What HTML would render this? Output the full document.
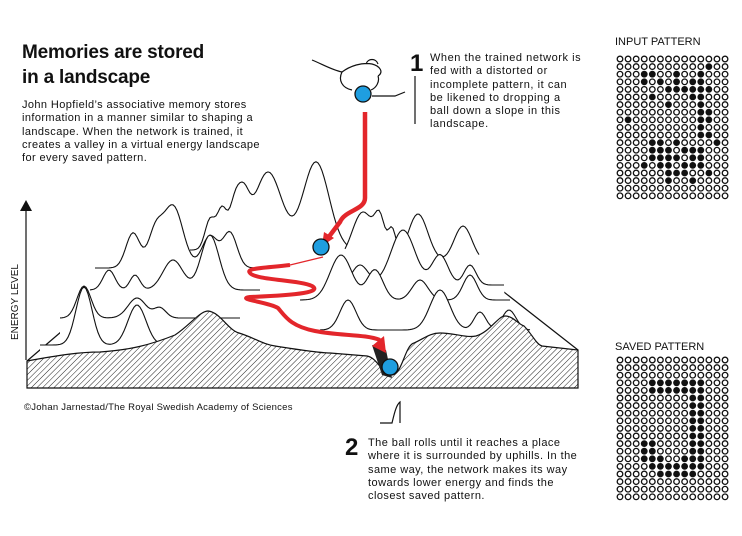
<!DOCTYPE html>
<html><head><meta charset="utf-8">
<style>
html,body{margin:0;padding:0;background:#fff;}
body{width:742px;height:536px;position:relative;overflow:hidden;font-family:"Liberation Sans",sans-serif;color:#111;}
.t{position:absolute;margin:0;white-space:nowrap;}
</style></head>
<body>
<h1 class="t" style="left:22px;top:40px;font-size:19px;line-height:25px;font-weight:bold;letter-spacing:-0.2px;">Memories are stored<br>in a landscape</h1>
<p class="t" style="left:22px;top:99px;font-size:11px;line-height:13.3px;letter-spacing:0.4px;">John Hopfield’s associative memory stores<br>information in a manner similar to shaping a<br>landscape. When the network is trained, it<br>creates a valley in a virtual energy landscape<br>for every saved pattern.</p>
<div class="t" style="left:410px;top:50px;font-size:24px;font-weight:bold;">1</div>
<p class="t" style="left:430px;top:52px;font-size:11px;line-height:13.3px;letter-spacing:0.55px;">When the trained network is<br>fed with a distorted or<br>incomplete pattern, it can<br>be likened to dropping a<br>ball down a slope in this<br>landscape.</p>
<div class="t" style="left:345px;top:434px;font-size:24px;font-weight:bold;">2</div>
<p class="t" style="left:368px;top:437px;font-size:11px;line-height:13.3px;letter-spacing:0.45px;">The ball rolls until it reaches a place<br>where it is surrounded by uphills. In the<br>same way, the network makes its way<br>towards lower energy and finds the<br>closest saved pattern.</p>
<div class="t" style="left:24px;top:402px;font-size:9.5px;letter-spacing:0.25px;">©Johan Jarnestad/The Royal Swedish Academy of Sciences</div>
<div class="t" style="left:615px;top:36px;font-size:11px;">INPUT PATTERN</div>
<div class="t" style="left:615px;top:341px;font-size:11px;">SAVED PATTERN</div>

<svg id="svg" width="742" height="536" style="position:absolute;left:0;top:0;">
<defs>
<pattern id="hatch" width="4" height="4" patternUnits="userSpaceOnUse" patternTransform="rotate(45)">
<line x1="0" y1="0" x2="0" y2="4" stroke="#222" stroke-width="1"/>
</pattern>
</defs>
<g id="land"></g>
<text transform="translate(18,340) rotate(-90)" font-size="10" font-family="Liberation Sans, sans-serif" fill="#111">ENERGY LEVEL</text>
</svg>
<script>
const inputRows = [
"..............",
"...........#..",
"...##..#..#...",
"...#.#.#.##...",
"......######..",
"....#....##...",
"......#...#...",
"..........##..",
".#........##..",
"..........#...",
"..........##..",
"....##.#....#.",
"....###.###...",
"....####.##...",
"...#.##.###...",
"......###..#..",
"......#..#....",
"..............",
".............."];
const savedRows = [
"..............",
"..............",
"..............",
"....#######...",
"....#######...",
".........##...",
".........##...",
".........##...",
".........##...",
".........##...",
".........##...",
"...##....##...",
"...##....##...",
"...###..###...",
"....#######...",
".....#####....",
"..............",
"..............",
".............."];
const NS="http://www.w3.org/2000/svg";
const svg=document.getElementById('svg');
const land=document.getElementById('land');
function mk(tag,attrs,parent){const e=document.createElementNS(NS,tag);for(const k in attrs)e.setAttribute(k,attrs[k]);(parent||svg).appendChild(e);return e;}
function grid(rows,x0,y0,name){
  const g=mk('g',{});
  
  
  rows.forEach((r,i)=>{for(let j=0;j<r.length;j++){
    const on=r[j]==='#';
    const c=mk('circle',{cx:x0+j*8.08,cy:y0+i*7.6,r:on?3.4:2.8,fill:on?'#111':'#fff',stroke:'#111','stroke-width':on?0:1.3},g);
    
    
  }});
}
grid(inputRows,620,59,'input-pattern-grid');
grid(savedRows,620,360,'saved-pattern-grid');

const plane=mk('path',{d:'M27,361 L100,297 L500,288 L578,350 Z',fill:'#fff',stroke:'none'},land);


const edges=mk('path',{d:'M27,361 L110,290 M578,350 L495,285',fill:'none',stroke:'#111','stroke-width':1.2},land);


const ridges=[
 {b:250,x0:190,x1:350,p:[[210,30,5],[222,40,5],[234,35,5],[243,45,6],[268,78,14],[316,88,13]]},
 {b:262,x0:345,x1:480,p:[[363,50,11],[380,35,5],[392,30,4],[418,48,10],[463,36,9]]},
 {b:268,x0:95,x1:260,p:[[133,35,7],[155,33,7],[173,62,10],[210,32,8],[230,35,7]]},
 {b:285,x0:340,x1:505,p:[[360,20,8],[403,55,12],[440,30,8],[470,20,6]]},
 {b:290,x0:90,x1:260,p:[[109,20,6],[135,15,5],[173,30,10],[210,55,9]]},
 {b:300,x0:300,x1:510,p:[[341,45,11],[375,30,8],[420,20,8],[470,25,7]]},
 {b:318,x0:60,x1:240,p:[[84,32,7],[137,20,9],[160,10,6]]},
 {b:330,x0:320,x1:530,p:[[348,30,8],[440,40,10],[480,18,6],[509,20,7]]},
 {b:345,x0:40,x1:200,p:[[84,58,8],[137,40,9]]}
];
ridges.slice().sort((a,b)=>a.b-b.b).forEach(r=>{
  let d='';
  for(let x=r.x0;x<=r.x1;x+=2){
    let y=r.b;
    r.p.forEach(p=>{y-=p[1]*Math.exp(-((x-p[0])**2)/(2*p[2]*p[2]));});
    d+=(x===r.x0?'M':'L')+x+','+y.toFixed(1);
  }
  const e=mk('path',{d:d+' L'+r.x1+','+(r.b+25)+' L'+r.x0+','+(r.b+25)+' Z',fill:'#fff',stroke:'none'},land);
  
  
  const l=mk('path',{d:d,fill:'none',stroke:'#111','stroke-width':1.1},land);
  
  
});
const faceD='M27,361 C60,355 80,352 100,352 C130,350 150,345 175,335 C190,325 200,311 208,311 C220,312 228,330 239,333 C255,338 262,344 275,346 C300,350 320,353 330,353 L367,356 C378,358 382,375 392,375 C402,375 405,345 414,343 C425,338 430,333 440,333 C455,333 465,338 476,336 C490,332 498,316 505,316 C513,316 518,324 524,326 C532,334 536,344 542,346 L578,350 L578,388 L27,388 Z';
const faceBg=mk('path',{d:faceD,fill:'#fff',stroke:'none'},land);


const face=mk('path',{d:faceD,fill:'url(#hatch)',stroke:'#111','stroke-width':1.2},land);


const sh=mk('path',{d:'M372,345 L382,375 L392,378 L386,350 Z',fill:'#222'},land);


const drop=mk('path',{d:'M365,112 L365,198 C365,210 345,210 340,222 L328,238',fill:'none',stroke:'#e3262b','stroke-width':4.5},land);


const ah=mk('path',{d:'M322,246 L324,232 L334,238 Z',fill:'#e3262b'},land);


const thin=mk('path',{d:'M323,257 L290,265',fill:'none',stroke:'#e3262b','stroke-width':1.2},land);


const roll=mk('path',{d:'M290,265 C265,268 245,268 250,273 C255,280 300,280 312,286 C322,292 300,295 250,297 C235,299 268,302 278,308 C285,316 290,326 315,331 C340,336 365,334 380,340',fill:'none',stroke:'#e3262b','stroke-width':4},land);


const ah2=mk('path',{d:'M386,353 L372,346 L384,336 Z',fill:'#e3262b'},land);


[[363,94],[321,247],[390,367]].forEach(b=>{
  const c=mk('circle',{cx:b[0],cy:b[1],r:8,fill:'#1f9ee0',stroke:'#111','stroke-width':1.3},land);
  
  
});
const hand=mk('path',{d:'M312,60 C322,64 332,70 342,72 M342,72 C350,66 362,62 372,64 C380,66 384,72 378,76 M342,72 C338,80 342,88 352,90 M378,76 C380,82 376,88 371,90 M366,64 C368,58 376,58 378,64',fill:'none',stroke:'#111','stroke-width':1.2},land);


const con=mk('path',{d:'M372,96 L395,96 L405,92 M415,76 L415,124',fill:'none',stroke:'#111','stroke-width':1.2},land);


const ax=mk('line',{x1:26,y1:210,x2:26,y2:360,stroke:'#111','stroke-width':1.2},land);


const axh=mk('path',{d:'M20,211 L26,200 L32,211 Z',fill:'#111'},land);


const st=mk('path',{d:'M380,423 L392,423 C394,415 396,405 400,402 L400,423',fill:'none',stroke:'#111','stroke-width':1.2},land);


</script>
</body></html>
